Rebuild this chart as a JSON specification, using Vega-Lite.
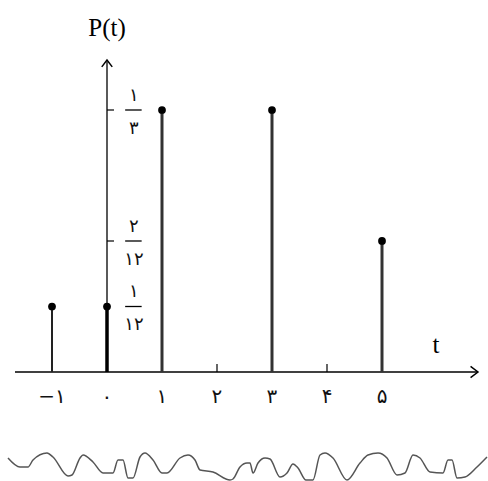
{
  "$schema": "https://vega.github.io/schema/vega-lite/v6.json",
  "width": 488,
  "height": 481,
  "padding": 0,
  "autosize": {"type": "none"},
  "background": "white",
  "config": {"view": {"stroke": null}},
  "datasets": {
    "stems": [
      {"t": -1, "p": 0.083333},
      {"t": 0, "p": 0.083333},
      {"t": 1, "p": 0.333333},
      {"t": 3, "p": 0.333333},
      {"t": 5, "p": 0.166667}
    ],
    "xlabels": [
      {"t": -1, "label": "−۱"},
      {"t": 0, "label": "۰"},
      {"t": 1, "label": "۱"},
      {"t": 2, "label": "۲"},
      {"t": 3, "label": "۳"},
      {"t": 4, "label": "۴"},
      {"t": 5, "label": "۵"}
    ],
    "fracs": [
      {"p": 0.333333, "num": "۱", "den": "۳"},
      {"p": 0.166667, "num": "۲", "den": "۱۲"},
      {"p": 0.083333, "num": "۱", "den": "۱۲"}
    ],
    "wave": [
      {"u": 8, "v": 458}, {"u": 20, "v": 467}, {"u": 28, "v": 467}, {"u": 33, "v": 460},
      {"u": 47, "v": 453}, {"u": 53, "v": 457}, {"u": 68, "v": 476}, {"u": 72, "v": 475},
      {"u": 80, "v": 458}, {"u": 83, "v": 455}, {"u": 93, "v": 462}, {"u": 103, "v": 473},
      {"u": 113, "v": 473}, {"u": 118, "v": 460}, {"u": 123, "v": 460}, {"u": 128, "v": 478},
      {"u": 133, "v": 478}, {"u": 140, "v": 457}, {"u": 145, "v": 453}, {"u": 153, "v": 460},
      {"u": 162, "v": 473}, {"u": 167, "v": 473}, {"u": 180, "v": 458}, {"u": 188, "v": 455},
      {"u": 195, "v": 460}, {"u": 200, "v": 470}, {"u": 213, "v": 472}, {"u": 230, "v": 480},
      {"u": 233, "v": 479}, {"u": 240, "v": 467}, {"u": 247, "v": 463}, {"u": 250, "v": 463},
      {"u": 253, "v": 473}, {"u": 258, "v": 463}, {"u": 265, "v": 458}, {"u": 270, "v": 459},
      {"u": 280, "v": 477}, {"u": 287, "v": 473}, {"u": 293, "v": 464}, {"u": 298, "v": 468},
      {"u": 306, "v": 480}, {"u": 313, "v": 480}, {"u": 320, "v": 455}, {"u": 325, "v": 453},
      {"u": 333, "v": 458}, {"u": 347, "v": 480}, {"u": 360, "v": 463}, {"u": 368, "v": 455},
      {"u": 378, "v": 453}, {"u": 387, "v": 458}, {"u": 397, "v": 475}, {"u": 405, "v": 473},
      {"u": 413, "v": 455}, {"u": 420, "v": 458}, {"u": 430, "v": 472}, {"u": 443, "v": 473},
      {"u": 448, "v": 460}, {"u": 452, "v": 460}, {"u": 457, "v": 478}, {"u": 465, "v": 477},
      {"u": 477, "v": 467}, {"u": 487, "v": 457}
    ]
  },
  "resolve": {"scale": {"x": "independent", "y": "independent"}},
  "layer": [
    {
      "layer": [
        {
          "data": {"values": [{}]},
          "mark": {"type": "rule", "color": "black", "strokeWidth": 1.3},
          "encoding": {
            "x": {"datum": -1.673, "type": "quantitative", "scale": {"domain": [-1.94545, 6.92727], "nice": false, "zero": false}, "axis": null},
            "x2": {"datum": 6.73},
            "y": {"datum": 0, "type": "quantitative", "scale": {"domain": [-0.13868, 0.47328], "nice": false, "zero": false}, "axis": null}
          }
        },
        {
          "data": {"values": [{}]},
          "mark": {"type": "rule", "color": "black", "strokeWidth": 1.3},
          "encoding": {
            "x": {"datum": 0, "type": "quantitative", "scale": {"domain": [-1.94545, 6.92727], "nice": false, "zero": false}, "axis": null},
            "y": {"datum": 0, "type": "quantitative", "scale": {"domain": [-0.13868, 0.47328], "nice": false, "zero": false}, "axis": null},
            "y2": {"datum": 0.395}
          }
        },
        {
          "data": {"values": [{}]},
          "mark": {"type": "point", "shape": "M-1.3,-1L0,0L-1.3,1", "size": 130, "filled": false, "stroke": "black", "strokeWidth": 1.5, "opacity": 1},
          "encoding": {
            "x": {"datum": 6.745, "type": "quantitative", "scale": {"domain": [-1.94545, 6.92727], "nice": false, "zero": false}, "axis": null},
            "y": {"datum": 0, "type": "quantitative", "scale": {"domain": [-0.13868, 0.47328], "nice": false, "zero": false}, "axis": null}
          }
        },
        {
          "data": {"values": [{}]},
          "mark": {"type": "point", "shape": "M-1,1.3L0,0L1,1.3", "size": 110, "filled": false, "stroke": "black", "strokeWidth": 1.5, "opacity": 1},
          "encoding": {
            "x": {"datum": 0, "type": "quantitative", "scale": {"domain": [-1.94545, 6.92727], "nice": false, "zero": false}, "axis": null},
            "y": {"datum": 0.3969, "type": "quantitative", "scale": {"domain": [-0.13868, 0.47328], "nice": false, "zero": false}, "axis": null}
          }
        },
        {
          "data": {"name": "xlabels"},
          "transform": [{"filter": "datum.t == 2 || datum.t == 4"}],
          "mark": {"type": "rule", "color": "black", "strokeWidth": 1.2},
          "encoding": {
            "x": {"field": "t", "type": "quantitative", "scale": {"domain": [-1.94545, 6.92727], "nice": false, "zero": false}, "axis": null},
            "y": {"datum": 0, "type": "quantitative", "scale": {"domain": [-0.13868, 0.47328], "nice": false, "zero": false}, "axis": null},
            "y2": {"datum": 0.0102}
          }
        },
        {
          "data": {"name": "fracs"},
          "transform": [{"filter": "datum.p > 0.1"}],
          "mark": {"type": "rule", "color": "black", "strokeWidth": 1.2},
          "encoding": {
            "x": {"datum": 0, "type": "quantitative", "scale": {"domain": [-1.94545, 6.92727], "nice": false, "zero": false}, "axis": null},
            "x2": {"datum": 0.127},
            "y": {"field": "p", "type": "quantitative", "scale": {"domain": [-0.13868, 0.47328], "nice": false, "zero": false}, "axis": null}
          }
        },
        {
          "data": {"name": "fracs"},
          "mark": {"type": "rule", "color": "black", "strokeWidth": 1.3},
          "encoding": {
            "x": {"datum": 0.33, "type": "quantitative", "scale": {"domain": [-1.94545, 6.92727], "nice": false, "zero": false}, "axis": null},
            "x2": {"datum": 0.63},
            "y": {"field": "p", "type": "quantitative", "scale": {"domain": [-0.13868, 0.47328], "nice": false, "zero": false}, "axis": null}
          }
        },
        {
          "data": {"name": "fracs"},
          "mark": {"type": "text", "font": "DejaVu Sans", "fontSize": 18, "color": "#111111", "baseline": "middle", "align": "center", "dy": -14},
          "encoding": {
            "x": {"datum": 0.49, "type": "quantitative", "scale": {"domain": [-1.94545, 6.92727], "nice": false, "zero": false}, "axis": null},
            "y": {"field": "p", "type": "quantitative", "scale": {"domain": [-0.13868, 0.47328], "nice": false, "zero": false}, "axis": null},
            "text": {"field": "num"}
          }
        },
        {
          "data": {"name": "fracs"},
          "mark": {"type": "text", "font": "DejaVu Sans", "fontSize": 18, "color": "#111111", "baseline": "middle", "align": "center", "dy": 19},
          "encoding": {
            "x": {"datum": 0.49, "type": "quantitative", "scale": {"domain": [-1.94545, 6.92727], "nice": false, "zero": false}, "axis": null},
            "y": {"field": "p", "type": "quantitative", "scale": {"domain": [-0.13868, 0.47328], "nice": false, "zero": false}, "axis": null},
            "text": {"field": "den"}
          }
        },
        {
          "data": {"name": "stems"},
          "transform": [{"filter": "datum.t == 0"}],
          "mark": {"type": "rule", "color": "black", "strokeWidth": 3.5},
          "encoding": {
            "x": {"field": "t", "type": "quantitative", "scale": {"domain": [-1.94545, 6.92727], "nice": false, "zero": false}, "axis": null},
            "y": {"field": "p", "type": "quantitative", "scale": {"domain": [-0.13868, 0.47328], "nice": false, "zero": false}, "axis": null},
            "y2": {"datum": 0}
          }
        },
        {
          "data": {"name": "stems"},
          "transform": [{"filter": "datum.t == -1"}],
          "mark": {"type": "rule", "color": "#222222", "strokeWidth": 2},
          "encoding": {
            "x": {"field": "t", "type": "quantitative", "scale": {"domain": [-1.94545, 6.92727], "nice": false, "zero": false}, "axis": null},
            "y": {"field": "p", "type": "quantitative", "scale": {"domain": [-0.13868, 0.47328], "nice": false, "zero": false}, "axis": null},
            "y2": {"datum": 0}
          }
        },
        {
          "data": {"name": "stems"},
          "transform": [{"filter": "datum.t > 0"}],
          "mark": {"type": "rule", "color": "#333333", "strokeWidth": 3},
          "encoding": {
            "x": {"field": "t", "type": "quantitative", "scale": {"domain": [-1.94545, 6.92727], "nice": false, "zero": false}, "axis": null},
            "y": {"field": "p", "type": "quantitative", "scale": {"domain": [-0.13868, 0.47328], "nice": false, "zero": false}, "axis": null},
            "y2": {"datum": 0}
          }
        },
        {
          "data": {"name": "stems"},
          "mark": {"type": "point", "filled": true, "color": "black", "size": 60, "opacity": 1},
          "encoding": {
            "x": {"field": "t", "type": "quantitative", "scale": {"domain": [-1.94545, 6.92727], "nice": false, "zero": false}, "axis": null},
            "y": {"field": "p", "type": "quantitative", "scale": {"domain": [-0.13868, 0.47328], "nice": false, "zero": false}, "axis": null}
          }
        },
        {
          "data": {"name": "xlabels"},
          "mark": {"type": "text", "font": "DejaVu Sans", "fontSize": 20, "color": "#111111", "baseline": "middle", "align": "center"},
          "encoding": {
            "x": {"field": "t", "type": "quantitative", "scale": {"domain": [-1.94545, 6.92727], "nice": false, "zero": false}, "axis": null},
            "y": {"datum": -0.0318, "type": "quantitative", "scale": {"domain": [-0.13868, 0.47328], "nice": false, "zero": false}, "axis": null},
            "text": {"field": "label"}
          }
        },
        {
          "data": {"values": [{"label": "P(t)"}]},
          "mark": {"type": "text", "font": "Liberation Serif", "fontSize": 25, "color": "black", "baseline": "middle", "align": "center"},
          "encoding": {
            "x": {"datum": 0, "type": "quantitative", "scale": {"domain": [-1.94545, 6.92727], "nice": false, "zero": false}, "axis": null},
            "y": {"datum": 0.4377, "type": "quantitative", "scale": {"domain": [-0.13868, 0.47328], "nice": false, "zero": false}, "axis": null},
            "text": {"field": "label"}
          }
        },
        {
          "data": {"values": [{"label": "t"}]},
          "mark": {"type": "text", "font": "Liberation Serif", "fontSize": 25, "color": "black", "baseline": "middle", "align": "center"},
          "encoding": {
            "x": {"datum": 5.98, "type": "quantitative", "scale": {"domain": [-1.94545, 6.92727], "nice": false, "zero": false}, "axis": null},
            "y": {"datum": 0.0344, "type": "quantitative", "scale": {"domain": [-0.13868, 0.47328], "nice": false, "zero": false}, "axis": null},
            "text": {"field": "label"}
          }
        }
      ]
    },
    {
      "data": {"name": "wave"},
      "mark": {"type": "line", "color": "#555555", "strokeWidth": 1.5, "interpolate": "monotone"},
      "encoding": {
        "x": {"field": "u", "type": "quantitative", "scale": {"domain": [0, 488], "nice": false, "zero": false}, "axis": null},
        "y": {"field": "v", "type": "quantitative", "scale": {"domain": [0, 481], "reverse": true, "nice": false, "zero": false}, "axis": null}
      }
    }
  ]
}
